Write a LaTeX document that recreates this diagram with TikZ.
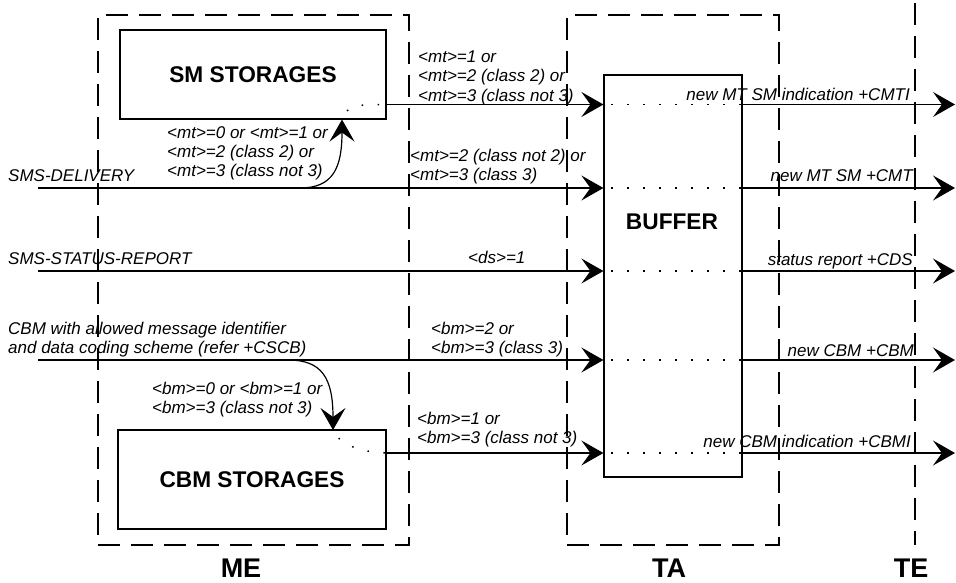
\documentclass[tikz,border=0pt]{standalone}
\usepackage{fontspec}
\setmainfont{Liberation Sans}
\usetikzlibrary{arrows.meta}
\begin{document}
\begin{tikzpicture}[x=1pt,y=-1pt,
  lbl/.style={font=\fontsize{17}{19.5}\selectfont\itshape, inner sep=0pt, align=left, anchor=base west},
  lblr/.style={font=\fontsize{17}{19.5}\selectfont\itshape, inner sep=0pt, anchor=base east},
  box/.style={draw, line width=1.2pt, inner sep=0pt},
  big/.style={font=\fontsize{22.7}{27}\selectfont\bfseries},
  zone/.style={font=\fontsize{27}{32}\selectfont\bfseries, inner sep=0pt, anchor=base},
  dashbox/.style={draw, line width=1.2pt, dash pattern=on 22pt off 11pt},
  arr/.style={line width=1.2pt, -{Stealth[length=22pt,width=25pt,inset=9pt]}},
  dots/.style={line width=1.5pt, dash pattern=on 1.5pt off 14.5pt}
]
\useasboundingbox (0,0) rectangle (956,583);

% zones
\node[dashbox, minimum width=311pt, minimum height=530pt] (me) at (253.5,280) {};
\node[dashbox, minimum width=212pt, minimum height=530pt] (ta) at (673,280) {};
\coordinate (tetop) at (915,3);
\coordinate (tebot) at (915,545);
\draw[dashbox] (tetop) -- (tebot);
\node[zone] (melbl) at (241,577) {ME};
\node[zone] (talbl) at (669,577) {TA};
\node[zone] (telbl) at (911,577) {TE};

% boxes
\node[box, minimum width=266pt, minimum height=89pt, big] (sm) at (253,74.5) {SM STORAGES};
\node[box, minimum width=268pt, minimum height=99pt, big] (cbm) at (252,479.5) {CBM STORAGES};
\node[box, minimum width=138pt, minimum height=402pt] (buf) at (673,276) {};
\node[big, inner sep=0pt] (buftxt) at (672,222) {BUFFER};

% row coordinates
\coordinate (r1) at (0,104.5);
\coordinate (s2) at (38,188);
\coordinate (s3) at (38,271);
\coordinate (s4) at (38,360);
\coordinate (r5) at (0,453);
\coordinate (e1) at (955,104.5);
\coordinate (e2) at (955,188);
\coordinate (e3) at (955,271);
\coordinate (e4) at (955,360);
\coordinate (e5) at (955,453);

% inputs to buffer
\draw[arr] (sm.east |- r1) -- (buf.west |- r1);
\draw[arr] (s2) -- (buf.west |- s2);
\draw[arr] (s3) -- (buf.west |- s3);
\draw[arr] (s4) -- (buf.west |- s4);
\draw[arr] (cbm.east |- r5) -- (buf.west |- r5);

% dotted through buffer
\draw[dots, dash phase=-8pt] (buf.west |- r1) -- (buf.east |- r1);
\draw[dots, dash phase=-8pt] (buf.west |- s2) -- (buf.east |- s2);
\draw[dots, dash phase=-8pt] (buf.west |- s3) -- (buf.east |- s3);
\draw[dots, dash phase=-8pt] (buf.west |- s4) -- (buf.east |- s4);
\draw[dots, dash phase=-8pt] (buf.west |- r5) -- (buf.east |- r5);

% outputs
\draw[arr] (buf.east |- r1) -- (e1);
\draw[arr] (buf.east |- s2) -- (e2);
\draw[arr] (buf.east |- s3) -- (e3);
\draw[arr] (buf.east |- s4) -- (e4);
\draw[arr] (buf.east |- r5) -- (e5);

% curved arrows into storages
\coordinate (c1s) at (300,188);
\coordinate (c1e) at (342,119.5);
\draw[arr] (c1s) .. controls (333,188) and (342,168) .. (c1e);
\draw[dots, dash phase=-10pt] (c1e) .. controls (345,110) and (352,105.5) .. (365,105) -- (sm.east |- r1);

\coordinate (c2s) at (288,360);
\coordinate (c2e) at (333,430);
\draw[arr] (c2s) .. controls (322,360) and (333,378) .. (c2e);
\draw[dots, dash phase=-10pt] (c2e) .. controls (338,442) and (355,452) .. (cbm.east |- r5);

% labels (base = baseline of last line)
\node[lbl] (l1) at (418,101.5) {<mt>=1 or\\<mt>=2 (class 2) or\\<mt>=3 (class not 3)};
\node[lbl] (l1b) at (167,177) {<mt>=0 or <mt>=1 or\\<mt>=2 (class 2) or\\<mt>=3 (class not 3)};
\node[lbl] (l2) at (410,180.5) {<mt>=2 (class not 2) or\\<mt>=3 (class 3)};
\node[lbl] (l3) at (468,263) {<ds>=1};
\node[lbl] (l4) at (431,353.5) {<bm>=2 or\\<bm>=3 (class 3)};
\node[lbl] (l4b) at (152,413.5) {<bm>=0 or <bm>=1 or\\<bm>=3 (class not 3)};
\node[lbl] (l5) at (417,443.5) {<bm>=1 or\\<bm>=3 (class not 3)};

\node[lbl] (in2) at (8,181.5) {SMS-DELIVERY};
\node[lbl] (in3) at (8,264.5) {SMS-STATUS-REPORT};
\node[lbl] (in4) at (8,353.5) {CBM with allowed message identifier\\and data coding scheme (refer +CSCB)};

\node[lblr] (o1) at (910,100.5) {new MT SM indication +CMTI};
\node[lblr] (o2) at (913,181.5) {new MT SM +CMT};
\node[lblr] (o3) at (913,265.5) {status report +CDS};
\node[lblr] (o4) at (914,356) {new CBM +CBM};
\node[lblr] (o5) at (911,447.5) {new CBM indication +CBMI};
\end{tikzpicture}
\end{document}
